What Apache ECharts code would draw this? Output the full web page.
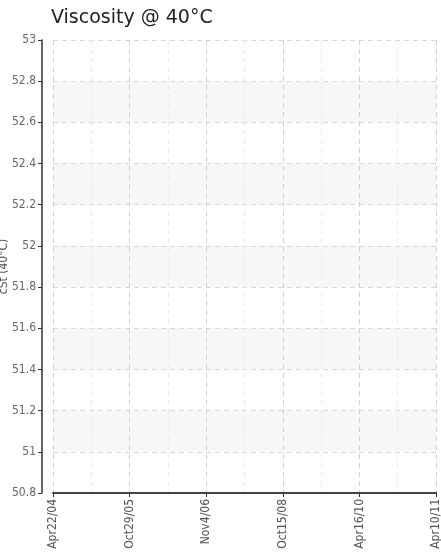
<!DOCTYPE html>
<html>
<head>
<meta charset="utf-8">
<script src="https://cdn.jsdelivr.net/npm/echarts@6/dist/echarts.min.js"></script>
<style>html,body{margin:0;padding:0;background:#fff}#c{width:441px;height:556px}</style>
</head>
<body>
<div id="c"></div>
<script>
const sampleDates = ['Apr22/04', 'Oct29/05', 'Nov4/06', 'Oct15/08', 'Apr16/10', 'Apr10/11'];
const viscosity = [];
const yMin = 50.8, yMax = 53, yStep = 0.2;

const narrow = "'Liberation Sans Narrow', 'DejaVu Sans Condensed', sans-serif";
const chart = echarts.init(document.getElementById('c'));
chart.setOption({
  animation: false,
  title: {
    text: 'Viscosity @ 40°C',
    left: 46, top: 4,
    textStyle: { fontFamily: 'DejaVu Sans', fontSize: 19, fontWeight: 'normal', color: '#222' }
  },
  grid: { left: 53, right: 5, top: 40, bottom: 63, outerBoundsMode: 'none', containLabel: false },
  xAxis: {
    type: 'value', min: 0, max: sampleDates.length - 1, interval: 1,
    axisLine: { onZero: false, lineStyle: { color: '#444', width: 2 } },
    axisTick: { show: true, length: 4, lineStyle: { color: '#333' } },
    axisLabel: {
      rotate: 90, color: '#555', fontFamily: narrow, fontSize: 12, margin: 6,
      formatter: v => (Number.isInteger(v) ? sampleDates[v] : '')
    },
    splitLine: { show: true, lineStyle: { color: '#d0d0d0', type: [5, 4] } },
    minorTick: { show: false, splitNumber: 2 },
    minorSplitLine: { show: true, lineStyle: { color: '#ebebeb', type: [5, 4] } }
  },
  yAxis: {
    type: 'value', min: yMin, max: yMax, interval: yStep, offset: 11,
    name: 'cSt (40°C)', nameLocation: 'middle', nameGap: 32, nameRotate: 90,
    nameMoveOverlap: false,
    nameTextStyle: { color: '#555', fontFamily: narrow, fontSize: 12 },
    axisLine: { show: true, onZero: false, lineStyle: { color: '#333', width: 1.5 } },
    axisTick: { show: true, length: 4, lineStyle: { color: '#333' } },
    axisLabel: { color: '#666', fontFamily: narrow, fontSize: 12, margin: 6 },
    splitLine: { show: true, lineStyle: { color: '#d8d8d8', type: [5, 4] } },
    splitArea: { show: true, areaStyle: { color: ['rgba(255,255,255,0)', '#f7f7f7'] } }
  },
  series: [{ type: 'line', data: viscosity, symbolSize: 4 }]
});
</script>
</body>
</html>
